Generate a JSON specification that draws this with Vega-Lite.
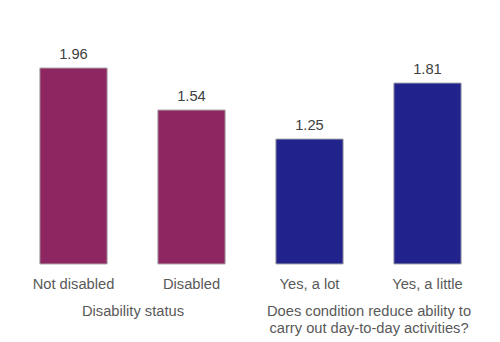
{
  "$schema": "https://vega.github.io/schema/vega-lite/v6.json",
  "padding": {"left": 14.5, "top": 44, "right": 0, "bottom": 0},
  "spacing": 0,
  "data": {"values": [
    {"group": "status", "category": "Not disabled", "value": 1.96},
    {"group": "status", "category": "Disabled", "value": 1.54},
    {"group": "reduce", "category": "Yes, a lot", "value": 1.25},
    {"group": "reduce", "category": "Yes, a little", "value": 1.81}
  ]},
  "config": {
    "view": {"stroke": null},
    "font": "Liberation Sans",
    "axis": {"labelFont": "Liberation Sans", "titleFont": "Liberation Sans"}
  },
  "hconcat": [
    {
      "width": 236,
      "height": 220,
      "transform": [{"filter": "datum.group === 'status'"}],
      "encoding": {
        "x": {"field": "category", "type": "nominal", "sort": null,
          "scale": {"paddingInner": 0.43, "paddingOuter": 0.215},
          "axis": {"title": "Disability status", "labelAngle": 0, "domain": false, "ticks": false,
            "labelFontSize": 14.7, "labelColor": "#595959", "labelPadding": 12,
            "titleFontSize": 14.7, "titleFontWeight": "normal", "titleColor": "#595959", "titlePadding": 13}},
        "y": {"field": "value", "type": "quantitative", "scale": {"domain": [0, 2.2]}, "axis": null}
      },
      "layer": [
        {"mark": {"type": "bar", "color": "#8E2662", "stroke": "#aaaaaa", "strokeWidth": 1}},
        {"mark": {"type": "text", "baseline": "bottom", "dy": -6, "fontSize": 14.7, "color": "#404040"},
         "encoding": {"text": {"field": "value", "type": "quantitative", "format": ".2f"}}}
      ]
    },
    {
      "width": 236,
      "height": 220,
      "transform": [{"filter": "datum.group === 'reduce'"}],
      "encoding": {
        "x": {"field": "category", "type": "nominal", "sort": null,
          "scale": {"paddingInner": 0.43, "paddingOuter": 0.215},
          "axis": {"title": ["Does condition reduce ability to", "carry out day-to-day activities?"], "labelAngle": 0, "domain": false, "ticks": false,
            "labelFontSize": 14.7, "labelColor": "#595959", "labelPadding": 12,
            "titleFontSize": 14.7, "titleFontWeight": "normal", "titleColor": "#595959", "titlePadding": 13, "titleLineHeight": 17}},
        "y": {"field": "value", "type": "quantitative", "scale": {"domain": [0, 2.2]}, "axis": null}
      },
      "layer": [
        {"mark": {"type": "bar", "color": "#21228C", "stroke": "#aaaaaa", "strokeWidth": 1}},
        {"mark": {"type": "text", "baseline": "bottom", "dy": -6, "fontSize": 14.7, "color": "#404040"},
         "encoding": {"text": {"field": "value", "type": "quantitative", "format": ".2f"}}}
      ]
    }
  ]
}
